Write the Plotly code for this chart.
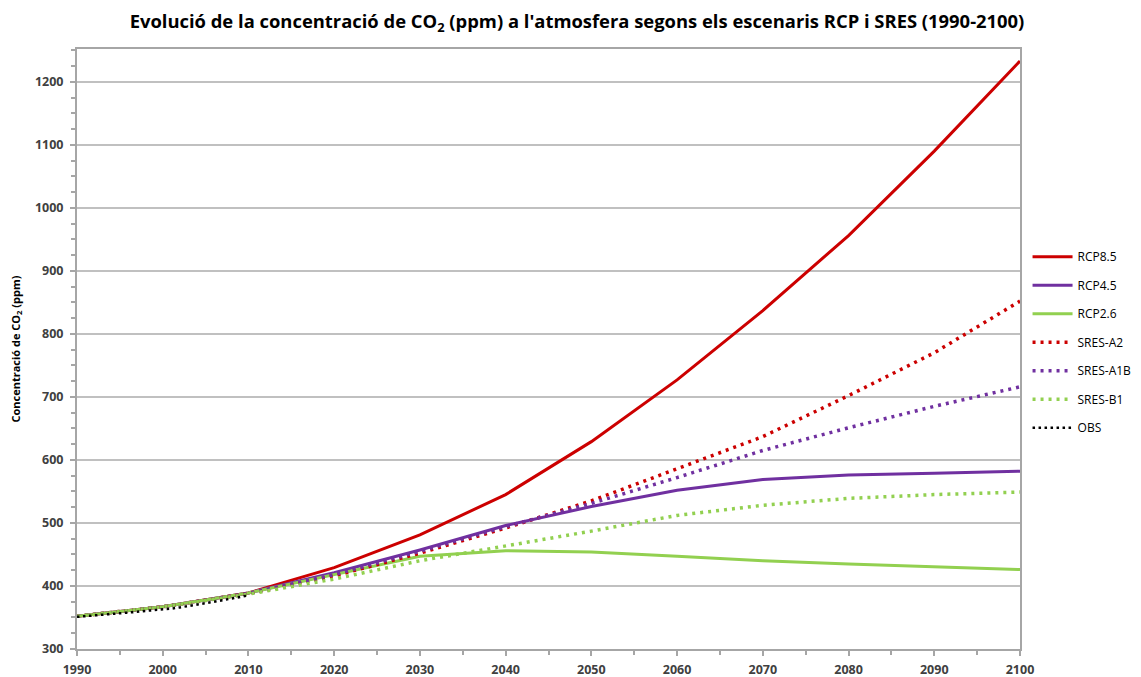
import plotly.graph_objects as go

years = [1990, 2000, 2010, 2020, 2030, 2040, 2050, 2060, 2070, 2080, 2090, 2100]
rcp85 = [352, 367, 389, 429, 481, 545, 629, 727, 837, 956, 1090, 1233]
rcp45 = [352, 367, 389, 421, 457, 496, 526, 552, 569, 576, 579, 582]
rcp26 = [352, 367, 389, 418, 447, 456, 454, 447, 440, 435, 431, 426]
sres_a2 = [352, 367, 388, 416, 452, 492, 535, 586, 637, 702, 770, 852]
sres_a1b = [352, 367, 388, 418, 455, 494, 531, 572, 615, 651, 685, 716]
sres_b1 = [352, 367, 387, 411, 440, 463, 487, 512, 528, 539, 545, 549]

obs_years = list(range(1990, 2011))
obs = [351, 352, 353, 354, 355, 356.5, 358, 359, 360.5, 361.5, 362.5, 364, 366,
       368, 370, 372.5, 375, 377.5, 380, 382.5, 385]

RED = "#cc0000"
PURPLE = "#7030a0"
GREEN = "#92d050"
DOT = "3px,5px"

series = [
    ("RCP8.5", years, rcp85, RED, "solid", 3),
    ("RCP4.5", years, rcp45, PURPLE, "solid", 3),
    ("RCP2.6", years, rcp26, GREEN, "solid", 3),
    ("SRES-A2", years, sres_a2, RED, DOT, 3.5),
    ("SRES-A1B", years, sres_a1b, PURPLE, DOT, 3.5),
    ("SRES-B1", years, sres_b1, GREEN, DOT, 3.5),
    ("OBS", obs_years, obs, "#000000", "2.5px,3.5px", 2.5),
]

fig = go.Figure()
for name, x, y, col, dash, w in series:
    fig.add_trace(go.Scatter(x=x, y=y, name=name, mode="lines",
                             line=dict(color=col, width=w, dash=dash),
                             legendgroup=name))

tickfont = dict(family="Open Sans", size=12.5, color="#404040", weight="bold")

# the page places the figure 8px from the window's top-left corner
W, H = 1133, 669

fig.update_layout(
    width=W, height=H,
    margin=dict(l=69, r=121, t=41, b=28, autoexpand=False),
    paper_bgcolor="white", plot_bgcolor="white",
    title=dict(text="Evolució de la concentració de CO<sub>2</sub> (ppm) a l'atmosfera segons els escenaris RCP i SRES (1990-2100)",
               x=(577 - 8) / W, xanchor="center", yref="container", y=1 - 14 / H, yanchor="middle",
               font=dict(family="Open Sans", size=18.4, color="#000000", weight="bold")),
    legend=dict(x=1.008, xanchor="left", y=0.678, yanchor="top",
                font=dict(family="Open Sans", size=12, color="#000000"),
                tracegroupgap=9.5, itemwidth=40, bgcolor="rgba(0,0,0,0)"),
    showlegend=True,
)

fig.update_xaxes(range=[1990, 2100], tick0=1990, dtick=10, showgrid=False, automargin=False,
                 showline=True, linecolor="#a6a6a6", linewidth=2, mirror=True,
                 ticks="outside", ticklen=5, tickcolor="#a6a6a6", tickwidth=1.5,
                 tickfont=tickfont, zeroline=False, ticklabelstandoff=3,
                 minor=dict(dtick=5, ticks="outside", ticklen=4, tickcolor="#a6a6a6", showgrid=False))
fig.update_yaxes(range=[300, 1252], tick0=300, dtick=100, showgrid=True, automargin=False,
                 gridcolor="#c0c0c0", gridwidth=1.5,
                 showline=True, linecolor="#a6a6a6", linewidth=2, mirror=True,
                 ticks="outside", ticklen=5, tickcolor="#a6a6a6", tickwidth=1.5,
                 tickfont=tickfont, zeroline=False, ticklabelstandoff=4,
                 minor=dict(dtick=25, ticks="outside", ticklen=4, tickcolor="#a6a6a6", showgrid=False),
                 title=dict(text="Concentració de CO<sub>2</sub> (ppm)", standoff=12,
                            font=dict(family="Open Sans", size=11, color="#000000", weight="bold")))

fig.write_html("out.html")
